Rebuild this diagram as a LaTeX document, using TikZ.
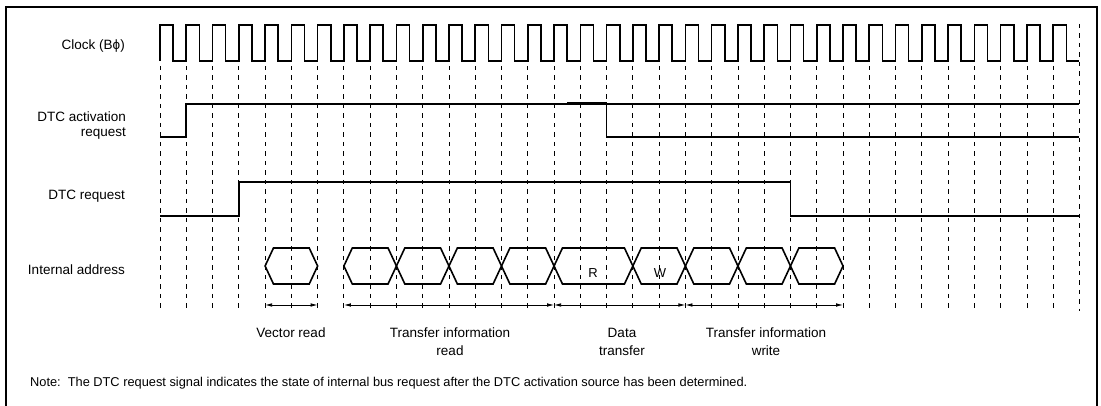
\documentclass[tikz,border=0pt]{standalone}
\usepackage{fontspec}
\setmainfont{Liberation Sans}
\usetikzlibrary{arrows.meta}
\begin{document}
\begin{tikzpicture}[x=1pt,y=-1pt,
  sig/.style={line width=1.6pt, line join=miter},
  gridline/.style={line width=0.8pt, dash pattern=on 4.3pt off 5.2pt},
  framel/.style={line width=2pt},
  spanarrow/.style={line width=0.8pt, {Latex[length=7pt,width=3.6pt]}-{Latex[length=7pt,width=3.6pt]}},
  lbl/.style={font=\fontsize{13.5}{15}\selectfont, anchor=east, align=right, inner sep=0pt},
  capt/.style={font=\fontsize{13.5}{18}\selectfont, align=center, inner sep=0pt},
  hexlbl/.style={font=\fontsize{13}{15}\selectfont, inner sep=0pt},
]
\useasboundingbox (0,0) rectangle (1101,406);
\def\dx{26.27}
% frame
\draw[framel] (6,410) -- (6,7) -- (1097,7) -- (1097,410);
% grid
\foreach \k in {0,...,34} {
  \draw[gridline] ({160+\dx*\k},66) -- ({160+\dx*\k},311);
}
\draw[gridline] ({160+\dx*35},24) -- ({160+\dx*35},311);
% clock
\draw[sig] (160,61) \foreach \k in {0,...,34} {
  -- ({160+\dx*\k},25) -- ({160+\dx*\k+13.13},25) -- ({160+\dx*\k+13.13},61) -- ({160+\dx*(\k+1)},61)
};
% DTC activation request
\draw[sig] (160,137) -- ({160+\dx},137) -- ({160+\dx},104) -- ({160+\dx*35},104);
\draw[sig] ({160+\dx*15.5},103) -- ({160+\dx*17},103) -- ({160+\dx*17},137) -- ({160+\dx*35},137);
% DTC request
\draw[sig] (160,216) -- ({160+\dx*3},216) -- ({160+\dx*3},182) -- ({160+\dx*24},182) -- ({160+\dx*24},216) -- ({160+\dx*35},216);
% internal address hexagons
\foreach \a/\b in {4/6,7/9,9/11,11/13,13/15,15/18,18/20,20/22,22/24,24/26} {
  \draw[sig] ({160+\dx*\a},266) -- ({160+\dx*\a+8.4},248) -- ({160+\dx*\b-8.4},248)
    -- ({160+\dx*\b},266) -- ({160+\dx*\b-8.4},284) -- ({160+\dx*\a+8.4},284) -- cycle;
}
\node[hexlbl] (r) at (593,273) {R};
\node[hexlbl] (w) at (660,273) {W};
% labels
\node[lbl] (lclk) at (125,46) {Clock (Bϕ)};
\node[lbl] (lact) at (126,126) {DTC activation\\request};
\node[lbl] (lreq) at (125,196) {DTC request};
\node[lbl] (ladr) at (125,270) {Internal address};
% span arrows
\foreach \k in {4,6,7,15,20,26} {
  \coordinate (s\k) at ({160+\dx*\k},305);
}
\draw[spanarrow] (s4) -- (s6);
\draw[spanarrow] (s7) -- (s15);
\draw[spanarrow] (s15) -- (s20);
\draw[spanarrow] (s20) -- (s26);
\node[capt] (cvec) at (291,333) {Vector read};
\node[capt] (ctir) at (450,342) {Transfer information\\read};
\node[capt] (cdat) at (622,342) {Data\\transfer};
\node[capt] (ctiw) at (766,342) {Transfer information\\write};
\node[anchor=west, inner sep=0pt, font=\fontsize{12.8}{15}\selectfont] (note) at (30,383)
  {Note:\hspace{0.55em}The DTC request signal indicates the state of internal bus request after the DTC activation source has been determined.};
\end{tikzpicture}
\end{document}
